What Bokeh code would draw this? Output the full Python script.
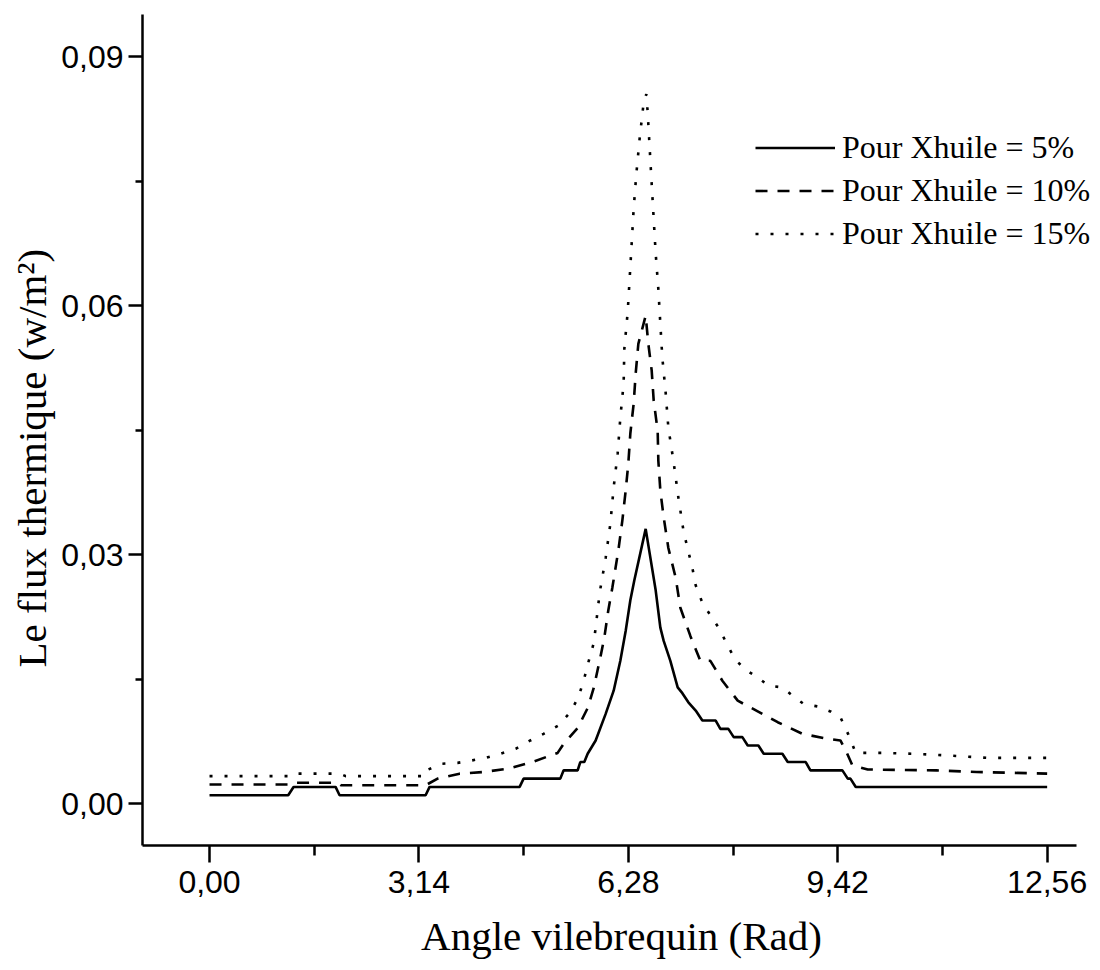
from bokeh.plotting import figure
from bokeh.models import (FixedTicker, CustomJSTickFormatter, Legend, LegendItem, Range1d, Title)
from bokeh.embed import file_html
from bokeh.resources import INLINE

# ---- data (angle in rad, heat flux in w/m2) ----
x_5 = [0.00, 1.18, 1.26, 1.89, 1.95, 3.24, 3.30, 4.65, 4.71, 5.26, 5.31, 5.52, 5.56, 5.62, 5.67,
       5.79, 5.94, 6.06, 6.16, 6.24, 6.31, 6.37, 6.54, 6.69, 6.76, 6.81, 6.91, 7.02, 7.09, 7.18,
       7.29, 7.39, 7.59, 7.66, 7.78, 7.86, 7.99, 8.07, 8.23, 8.31, 8.59, 8.67, 8.94, 9.01, 9.49,
       9.57, 9.61, 9.69, 12.56]
y_5 = [0.001, 0.001, 0.002, 0.002, 0.001, 0.001, 0.002, 0.002, 0.003, 0.003, 0.004, 0.004, 0.005, 0.005, 0.006,
       0.0076, 0.0108, 0.0136, 0.0172, 0.0208, 0.0245, 0.0269, 0.0331, 0.0257, 0.0212, 0.0196, 0.0172, 0.0140, 0.0133, 0.0122,
       0.0112, 0.010, 0.010, 0.009, 0.009, 0.008, 0.008, 0.007, 0.007, 0.006, 0.006, 0.005, 0.005, 0.004, 0.004,
       0.003, 0.003, 0.002, 0.002]

x_10 = [0.00, 1.18, 1.22, 1.92, 1.97, 3.24, 3.42, 3.75, 4.11, 4.48, 4.84, 5.22, 5.31, 5.52, 5.67,
        5.76, 5.86, 5.92, 5.98, 6.04, 6.13, 6.19, 6.24, 6.28, 6.31, 6.36, 6.39, 6.43, 6.54, 6.58,
        6.63, 6.66, 6.72, 6.73, 6.76, 6.81, 6.88, 6.99, 7.06, 7.21, 7.36, 7.51, 7.69, 7.92, 8.22,
        8.52, 8.89, 9.27, 9.46, 9.54, 9.64, 9.87, 10.90, 11.50, 12.56]
y_10 = [0.0023, 0.0023, 0.0025, 0.0025, 0.0022, 0.0022, 0.0030, 0.0036, 0.0038, 0.0042, 0.0050, 0.0061, 0.0072, 0.0091, 0.0115,
        0.0139, 0.0176, 0.0200, 0.0233, 0.0260, 0.0305, 0.0341, 0.0377, 0.0410, 0.0446, 0.0482, 0.0518, 0.0554, 0.0588, 0.0554,
        0.0522, 0.0486, 0.0449, 0.0413, 0.0377, 0.0345, 0.0308, 0.0272, 0.0236, 0.0202, 0.0172, 0.0172, 0.0148, 0.0124, 0.0111,
        0.0098, 0.0084, 0.0078, 0.0076, 0.0064, 0.0046, 0.0041, 0.0040, 0.0038, 0.0036]

x_15 = [0.00, 1.18, 1.22, 1.95, 2.04, 3.24, 3.28, 3.49, 3.72, 3.94, 4.14, 4.36, 4.59, 4.81, 5.01,
        5.23, 5.41, 5.53, 5.61, 5.68, 5.76, 5.79, 5.85, 5.94, 6.01, 6.06, 6.12, 6.16, 6.21, 6.22,
        6.27, 6.30, 6.33, 6.36, 6.40, 6.45, 6.51, 6.55, 6.57, 6.60, 6.63, 6.66, 6.69, 6.73, 6.76,
        6.79, 6.84, 6.88, 6.96, 7.03, 7.11, 7.24, 7.29, 7.39, 7.51, 7.65, 7.77, 7.89, 8.04, 8.22,
        8.38, 8.59, 8.74, 8.91, 9.12, 9.31, 9.46, 9.58, 9.69, 10.11, 10.55, 11.05, 11.67, 12.56]
y_15 = [0.0033, 0.0033, 0.0036, 0.0036, 0.0033, 0.0033, 0.0041, 0.0048, 0.0049, 0.0052, 0.0055, 0.0060, 0.0066, 0.0076, 0.0084,
        0.0094, 0.0110, 0.0128, 0.0148, 0.0170, 0.0193, 0.0212, 0.0254, 0.0296, 0.0337, 0.0381, 0.0422, 0.0465, 0.0507, 0.0548,
        0.0592, 0.0633, 0.0675, 0.0717, 0.0759, 0.0802, 0.0845, 0.0855, 0.0833, 0.0790, 0.0747, 0.0705, 0.0663, 0.0620, 0.0578,
        0.0537, 0.0495, 0.0453, 0.0411, 0.0369, 0.0327, 0.0284, 0.0263, 0.0242, 0.0227, 0.0210, 0.0190, 0.0173, 0.0161, 0.0152,
        0.0142, 0.0140, 0.0130, 0.0120, 0.0117, 0.0111, 0.0104, 0.0083, 0.0061, 0.0061, 0.0060, 0.0058, 0.0055, 0.0055]

series_labels = ["Pour Xhuile = 5%", "Pour Xhuile = 10%", "Pour Xhuile = 15%"]
x_title = "Angle vilebrequin (Rad)"
y_title = "Le flux thermique (w/m\u00b2)"
x_ticks = [0.0, 3.14, 6.28, 9.42, 12.56]
x_minor = [1.57, 4.71, 7.85, 10.99]
y_ticks = [0.0, 0.03, 0.06, 0.09]
y_minor = [0.015, 0.045, 0.075]

SERIF = "Liberation Serif"
SANS = "Liberation Sans"

p = figure(width=1100, height=970, output_backend="svg", toolbar_location=None,
           x_range=Range1d(-1.005, 13.36), y_range=Range1d(-0.00506, 0.0951),
           min_border_left=142, min_border_right=0, min_border_top=14, min_border_bottom=125)
p.outline_line_color = None
p.xgrid.visible = False
p.ygrid.visible = False
p.background_fill_color = "white"
p.border_fill_color = "white"

r5 = p.line(x_5, y_5, line_color="black", line_width=2.6)
r10 = p.line(x_10, y_10, line_color="black", line_width=2.6, line_dash="12 10")
r15 = p.line(x_15, y_15, line_color="black", line_width=2.6, line_dash="3 12")

fmt = CustomJSTickFormatter(code="return tick.toFixed(2).replace('.', ',');")

xa = p.xaxis[0]
xa.ticker = FixedTicker(ticks=x_ticks, minor_ticks=x_minor)
xa.formatter = fmt
xa.bounds = (-1.005, 13.0)
xa.axis_label = x_title
xa.major_tick_out = 17
xa.major_tick_in = 0
xa.minor_tick_out = 10
xa.minor_tick_in = 0
xa.major_label_standoff = 8
xa.axis_label_standoff = 17
xa.axis_label_text_font_size = "41px"

ya = p.yaxis[0]
ya.ticker = FixedTicker(ticks=y_ticks, minor_ticks=y_minor)
ya.formatter = fmt
ya.major_tick_out = 14
ya.major_tick_in = 0
ya.minor_tick_out = 7
ya.minor_tick_in = 0
ya.major_label_standoff = 5

for ax in (xa, ya):
    ax.axis_line_width = 2.5
    ax.axis_line_color = "black"
    ax.major_tick_line_width = 2.5
    ax.minor_tick_line_width = 2.5
    ax.major_tick_line_color = "black"
    ax.minor_tick_line_color = "black"
    ax.major_label_text_font = SANS
    ax.major_label_text_font_size = "32px"
    ax.major_label_text_color = "black"
    ax.axis_label_text_font = SERIF
    ax.axis_label_text_font_style = "normal"
    ax.axis_label_text_color = "black"

ytitle = Title(text=y_title, align="left", offset=178, standoff=4, vertical_align="top",
               text_font=SERIF, text_font_size="41px", text_font_style="normal",
               text_color="black")
p.add_layout(ytitle, "left")

legend = Legend(items=[LegendItem(label=series_labels[0], renderers=[r5]),
                       LegendItem(label=series_labels[1], renderers=[r10]),
                       LegendItem(label=series_labels[2], renderers=[r15])],
                location=(613, 590))
legend.border_line_color = None
legend.background_fill_alpha = 0
legend.label_text_font = SERIF
legend.label_text_font_size = "32px"
legend.label_text_color = "black"
legend.glyph_width = 80
legend.glyph_height = 43
legend.label_height = 43
legend.spacing = 0
legend.padding = 0
legend.margin = 0
legend.label_standoff = 7
p.add_layout(legend)

open("out.html", "w").write(file_html(p, INLINE))
